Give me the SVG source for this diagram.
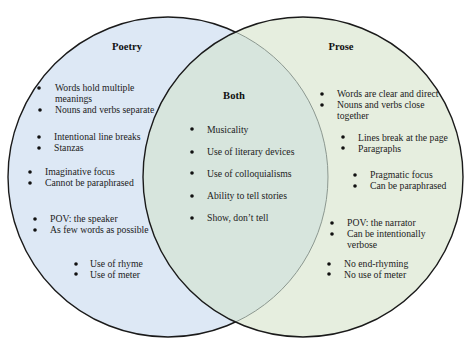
<svg xmlns="http://www.w3.org/2000/svg" width="474" height="355" viewBox="0 0 474 355">
<style>
text{font-family:"Liberation Serif","DejaVu Serif",serif;font-size:9.7px;fill:#222}
.t{font-weight:bold;font-size:10.6px;fill:#111;text-anchor:middle}
.b{fill:#111}
</style>
<rect width="474" height="355" fill="#fff"/>
<g id="poetry-circle">
<circle cx="168" cy="177" r="160" fill="#dde8f5" stroke="#1a1a1a" stroke-width="1.4"/>
</g>
<g id="prose-circle">
<circle cx="303" cy="177" r="160" fill="#e6eedf"/>
<path d="M235.5,31.94 A160,160 0 0 0 235.5,322.06 A160,160 0 0 0 235.5,31.94 Z" fill="#d7e5dd"/>
<path d="M235.5,322.06 A160,160 0 0 0 235.5,31.94" fill="none" stroke="#8c9890" stroke-width="1"/>
<circle cx="303" cy="177" r="160" fill="none" stroke="#1a1a1a" stroke-width="1.4"/>
</g>
<g id="connectors"></g>
<g id="poetry">
<text class="t" x="127" y="50">Poetry</text>
<g class="b">
<circle cx="39" cy="88" r="1.8"/><circle cx="40" cy="110" r="1.8"/>
<circle cx="39" cy="137" r="1.8"/><circle cx="39" cy="148" r="1.8"/>
<circle cx="30" cy="172" r="1.8"/><circle cx="30" cy="183" r="1.8"/>
<circle cx="35" cy="219" r="1.8"/><circle cx="35" cy="230" r="1.8"/>
<circle cx="76" cy="264" r="1.8"/><circle cx="76" cy="274" r="1.8"/>
</g>
<text x="55" y="91">Words hold multiple</text>
<text x="55" y="102">meanings</text>
<text x="55" y="113">Nouns and verbs separate</text>
<text x="54" y="140">Intentional line breaks</text>
<text x="54" y="151">Stanzas</text>
<text x="45" y="175">Imaginative focus</text>
<text x="45" y="186">Cannot be paraphrased</text>
<text x="50" y="222">POV: the speaker</text>
<text x="50" y="233">As few words as possible</text>
<text x="90" y="267">Use of rhyme</text>
<text x="90" y="278">Use of meter</text>
</g>
<g id="both">
<text class="t" x="234" y="99">Both</text>
<g class="b">
<circle cx="192" cy="129" r="1.8"/><circle cx="192" cy="152" r="1.8"/>
<circle cx="192" cy="173" r="1.8"/><circle cx="192" cy="196" r="1.8"/>
<circle cx="192" cy="218" r="1.8"/>
</g>
<text x="207" y="133">Musicality</text>
<text x="207" y="155">Use of literary devices</text>
<text x="207" y="177">Use of colloquialisms</text>
<text x="207" y="199">Ability to tell stories</text>
<text x="207" y="221">Show, don’t tell</text>
</g>
<g id="prose">
<text class="t" x="341" y="50">Prose</text>
<g class="b">
<circle cx="322" cy="94" r="1.8"/><circle cx="322" cy="105" r="1.8"/>
<circle cx="343" cy="137" r="1.8"/><circle cx="343" cy="148" r="1.8"/>
<circle cx="355" cy="175" r="1.8"/><circle cx="355" cy="186" r="1.8"/>
<circle cx="332" cy="223" r="1.8"/><circle cx="332" cy="234" r="1.8"/>
<circle cx="329" cy="264" r="1.8"/><circle cx="329" cy="274" r="1.8"/>
</g>
<text x="337" y="97">Words are clear and direct</text>
<text x="337" y="108">Nouns and verbs close</text>
<text x="337" y="119">together</text>
<text x="358" y="141">Lines break at the page</text>
<text x="358" y="152">Paragraphs</text>
<text x="370" y="178">Pragmatic focus</text>
<text x="370" y="189">Can be paraphrased</text>
<text x="347" y="226">POV: the narrator</text>
<text x="347" y="237">Can be intentionally</text>
<text x="347" y="248">verbose</text>
<text x="344" y="267">No end-rhyming</text>
<text x="344" y="278">No use of meter</text>
</g>
</svg>
